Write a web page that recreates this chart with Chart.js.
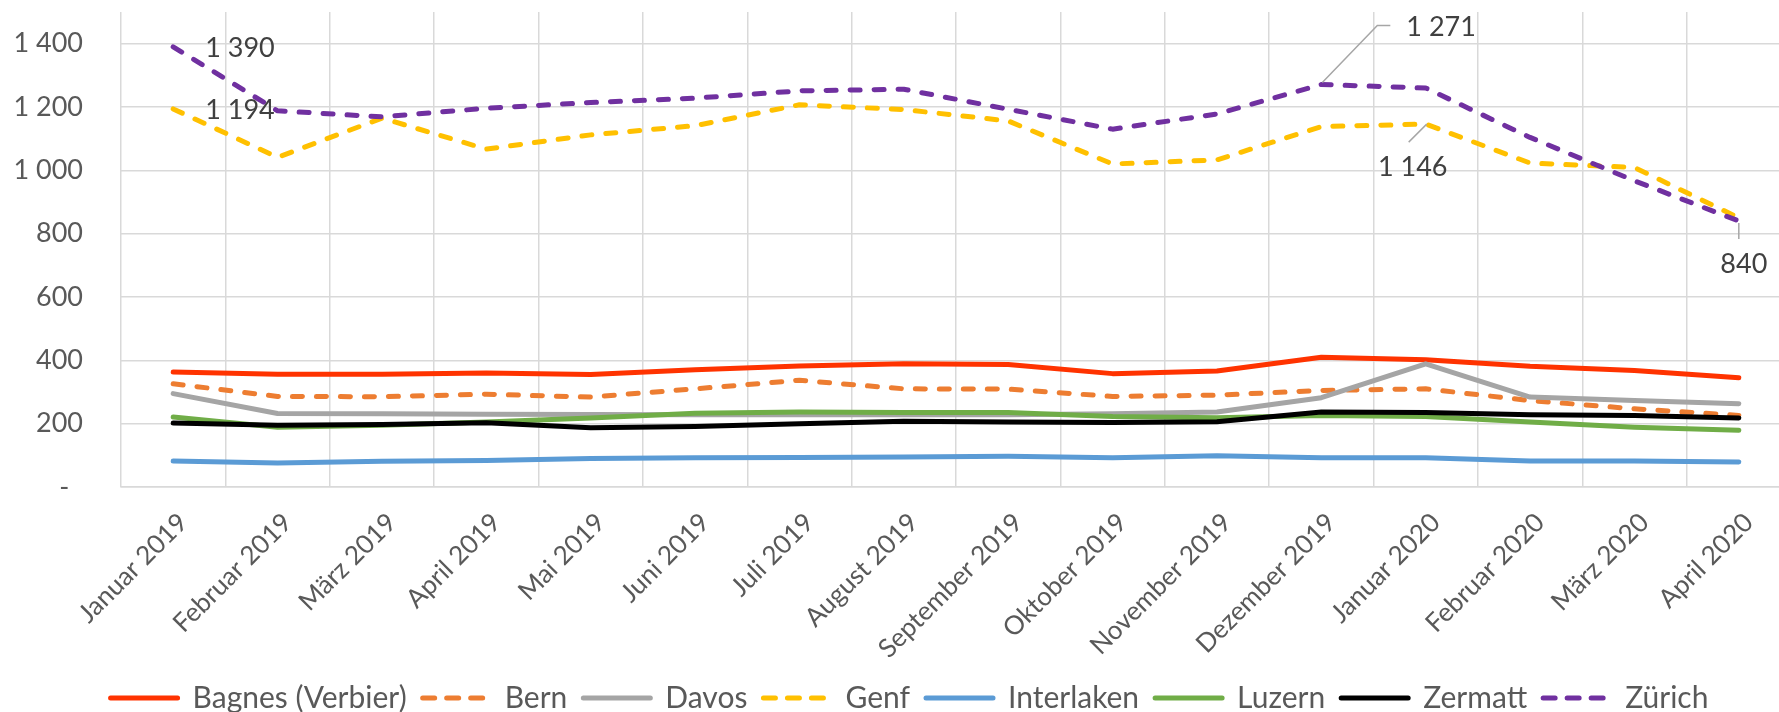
<!DOCTYPE html>
<html>
<head>
<meta charset="utf-8">
<script src="https://cdn.jsdelivr.net/npm/chart.js@4"></script>
<style>
  body { margin: 0; overflow: hidden; background: #fff; }
  #wrap { width: 1800px; height: 723px; }
</style>
</head>
<body>
<div id="wrap"><canvas id="chart" width="1800" height="723"></canvas></div>
<script>
let months = [
  "Januar 2019", "Februar 2019", "März 2019", "April 2019", "Mai 2019", "Juni 2019",
  "Juli 2019", "August 2019", "September 2019", "Oktober 2019", "November 2019",
  "Dezember 2019", "Januar 2020", "Februar 2020", "März 2020", "April 2020",
];

let bagnes = [363, 356, 356, 360, 355, 370, 382, 389, 387, 358, 366, 410, 402, 381, 368, 345];
let bern = [326, 286, 285, 293, 284, 310, 337, 310, 309, 286, 290, 305, 310, 273, 247, 226];
let davos = [295, 232, 231, 230, 229, 228, 228, 228, 228, 231, 237, 282, 389, 284, 273, 263];
let genf = [1194, 1041, 1165, 1067, 1112, 1141, 1207, 1192, 1156, 1020, 1033, 1138, 1146, 1023, 1009, 850];
let interlaken = [82, 76, 81, 84, 90, 92, 93, 95, 97, 92, 99, 92, 92, 82, 82, 79];
let luzern = [221, 189, 195, 205, 218, 233, 237, 235, 235, 223, 219, 226, 223, 205, 189, 179];
let zermatt = [202, 195, 197, 203, 187, 191, 200, 208, 205, 204, 206, 237, 235, 228, 226, 218];
let zuerich = [1390, 1188, 1169, 1196, 1214, 1228, 1251, 1256, 1193, 1130, 1178, 1271, 1260, 1104, 967, 840];

let yTicks = [0, 200, 400, 600, 800, 1000, 1200, 1400];

const textFont = "Lato";
const dashed = [10, 14];

// number format like the Excel sheet: "1 400", zero shown as a dash
function fmt(v) {
  if (v === 0) return "-  ";
  return String(v).replace(/\B(?=(\d{3})+(?!\d))/g, " ");
}

// labelled points: which series / month, and where the text sits relative to the point
const pointLabels = [
  { series: 7, index: 0, dx: 32, dy: 1, align: "left" },
  { series: 3, index: 0, dx: 32, dy: 1, align: "left" },
  { series: 7, index: 11, dx: 85, dy: -57, align: "left", leader: [[1, -2], [56, -59], [69, -59]] },
  { series: 3, index: 12, dx: -13, dy: 43, align: "center", leader: [[1, 0], [-17, 18]] },
  { series: 7, index: 15, dx: 5, dy: 43, align: "center", leader: [[0, 2], [0, 18]] },
];

const labelPlugin = {
  id: "valueLabels",
  afterDatasetsDraw(chart) {
    const ctx = chart.ctx;
    ctx.save();
    ctx.font = "27px " + textFont;
    ctx.fillStyle = "#404040";
    ctx.textBaseline = "middle";
    pointLabels.forEach((l) => {
      const pt = chart.getDatasetMeta(l.series).data[l.index];
      if (l.leader) {
        ctx.strokeStyle = "#A6A6A6";
        ctx.lineWidth = 1.5;
        ctx.beginPath();
        l.leader.forEach(([dx, dy], k) => {
          if (k === 0) ctx.moveTo(pt.x + dx, pt.y + dy);
          else ctx.lineTo(pt.x + dx, pt.y + dy);
        });
        ctx.stroke();
      }
      ctx.textAlign = l.align;
      ctx.fillText(fmt(chart.data.datasets[l.series].data[l.index]), pt.x + l.dx, pt.y + l.dy);
    });
    ctx.restore();
  },
};

function series(label, data, color, dash) {
  return {
    label: label,
    data: data,
    borderColor: color,
    backgroundColor: color,
    borderWidth: 5,
    borderDash: dash || [],
    borderCapStyle: "round",
    borderJoinStyle: "round",
    pointRadius: 0,
    pointHoverRadius: 0,
    tension: 0,
    fill: false,
  };
}

let datasets = [
  series("Bagnes (Verbier)", bagnes, "#FF3300"),
  series("Bern", bern, "#ED7D31", dashed),
  series("Davos", davos, "#A5A5A5"),
  series("Genf", genf, "#FFC000", dashed),
  series("Interlaken", interlaken, "#5B9BD5"),
  series("Luzern", luzern, "#70AD47"),
  series("Zermatt", zermatt, "#000000"),
  series("Zürich", zuerich, "#7030A0", dashed),
];
// Excel paints later series on top
datasets.forEach((d, i) => (d.order = datasets.length - i));

function draw() {
  new Chart(document.getElementById("chart"), {
    type: "line",
    data: { labels: months, datasets: datasets },
    plugins: [labelPlugin],
    options: {
      responsive: false,
      animation: false,
      // left padding only nudges the centred legend to the right
      layout: { padding: { top: 12, right: 9, left: 28, bottom: 0 } },
      plugins: {
        tooltip: { enabled: false },
        legend: {
          position: "bottom",
          labels: {
            font: { family: textFont, size: 30, lineHeight: 1 },
            color: "#595959",
            usePointStyle: true,
            pointStyleWidth: 67,
            boxHeight: 20,
            padding: 16,
            generateLabels: (chart) =>
              chart.data.datasets.map((ds, i) => ({
                text: ds.label,
                fillStyle: ds.borderColor,
                strokeStyle: ds.borderColor,
                fontColor: "#595959",
                lineWidth: 5,
                lineCap: "round",
                lineDash: ds.borderDash.length ? [12, 12] : [],
                pointStyle: "line",
                hidden: false,
                datasetIndex: i,
              })),
          },
        },
      },
      scales: {
        x: {
          offset: true,
          grid: { offset: true, color: "#D9D9D9", lineWidth: 1.5, drawTicks: false },
          border: { color: "#D9D9D9", width: 1.5 },
          ticks: {
            font: { family: textFont, size: 26 },
            color: "#595959",
            minRotation: 45,
            maxRotation: 45,
            padding: 20,
            labelOffset: 10,
            autoSkip: false,
          },
          afterFit: (scale) => { scale.height = 180; },
        },
        y: {
          min: 0,
          max: 1500,
          grid: { color: "#D9D9D9", lineWidth: 1.5, drawTicks: false },
          border: { display: false },
          afterBuildTicks: (scale) => { scale.ticks = yTicks.map((v) => ({ value: v })); },
          ticks: {
            font: { family: textFont, size: 27 },
            color: "#595959",
            padding: 38,
            callback: (v) => fmt(v),
          },
          afterFit: (scale) => {
            scale.width = 93;
            scale.paddingTop = 0;
            scale.paddingBottom = 0;
            // let the tick labels run into the left padding instead of being clipped
            scale._computeLabelArea = () => undefined;
          },
        },
      },
    },
  });
}

document.fonts.load("27px " + textFont).then(draw, draw);
</script>
</body>
</html>
